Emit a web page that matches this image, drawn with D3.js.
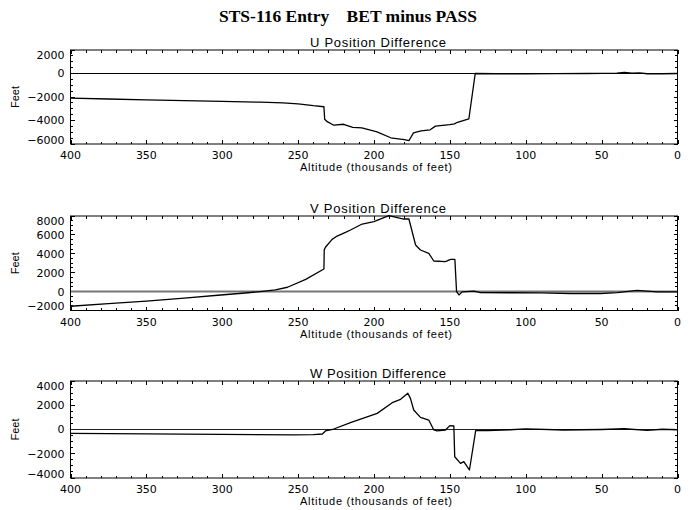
<!DOCTYPE html>
<html><head><meta charset="utf-8">
<script src="https://cdn.jsdelivr.net/npm/d3@7"></script>
<style>
body{margin:0;background:#fff;}
svg{display:block;}
text{fill:#000;}
</style></head>
<body>
<svg id="c" width="697" height="510"></svg>
<script>
// ---- data ----
const title = "STS-116 Entry    BET minus PASS";
const panelTitles = ["U Position Difference", "V Position Difference", "W Position Difference"];
const xLabel = "Altitude (thousands of feet)";
const yLabel = "Feet";
const xTicks = [400, 350, 300, 250, 200, 150, 100, 50, 0];
const yTicksU = [2000, 0, -2000, -4000, -6000];
const yTicksV = [8000, 6000, 4000, 2000, 0, -2000];
const yTicksW = [4000, 2000, 0, -2000, -4000];

// [altitude (kft), difference (ft)]
const uDiff = [[400,-2100],[375,-2170],[350,-2250],[325,-2310],[300,-2380],[275,-2440],[260,-2500],[250,-2580],[240,-2740],[233,-2830],[232.5,-3900],[230.8,-4100],[226.5,-4400],[220,-4320],[214,-4580],[208,-4630],[198,-4960],[189,-5470],[180,-5620],[177,-5720],[174,-5050],[169,-4880],[163,-4790],[159.5,-4480],[150,-4350],[147,-4290],[145,-4150],[137.5,-3870],[133.3,0],[120,-20],[100,-30],[80,-10],[60,0],[40,40],[35,100],[30,20],[25,60],[20,-20],[10,-20],[0,0]];
const vDiff = [[400,-1550],[375,-1280],[350,-1000],[325,-700],[301,-360],[285,-150],[275,0],[265,180],[257,460],[245,1300],[233,2390],[232.8,4400],[232,4690],[227.6,5530],[224.3,5880],[218.8,6270],[215.5,6520],[207.8,7150],[200.1,7400],[190.2,8030],[180.4,7680],[177,7680],[172.6,4930],[169.4,4400],[163.9,4050],[160.6,3240],[152.9,3170],[149.6,3410],[146.7,3410],[145.6,0],[144,-350],[141.9,-30],[134.2,60],[129.8,-110],[110,-120],[90,-130],[70.5,-200],[50.7,-200],[39.7,-100],[26.6,140],[13.4,-20],[0,-30]];
const wDiff = [[400,-320],[350,-360],[301,-400],[253,-450],[240,-420],[234,-370],[232,-120],[226.5,40],[215.5,560],[197.9,1330],[188,2210],[182.5,2490],[177.7,2990],[176,2570],[173.8,1610],[169.4,1000],[163.9,780],[160.6,-40],[158.4,-120],[152.9,-40],[150,320],[147.4,290],[146.8,-2250],[143,-2790],[140.8,-2650],[138.6,-3070],[137.1,-3340],[134.2,-1050],[133,-100],[125,-100],[110,-20],[100,50],[75,-40],[50,0],[35,60],[20,-80],[10,20],[0,-20]];

const series = [uDiff, vDiff, wDiff];
const yTickSets = [yTicksU, yTicksV, yTicksW];

// ---- layout ----
const L = 70.5, R = 677.5;
const panels = [
  {top: 50, bottom: 144, zeroColor: "#000", zeroWidth: 1},
  {top: 216, bottom: 310.5, zeroColor: "#777", zeroWidth: 2},
  {top: 381, bottom: 478, zeroColor: "#222", zeroWidth: 1.2}
];

const svg = d3.select("#c");
const font = "'Liberation Sans', Arial, sans-serif";
const numFont = "'DejaVu Sans', sans-serif";

svg.append("text")
  .attr("x", 348).attr("y", 22)
  .attr("text-anchor", "middle")
  .style("white-space", "pre")
  .attr("font-family", "'Liberation Serif', 'Times New Roman', serif")
  .attr("font-weight", "bold").attr("font-size", 16)
  .attr("textLength", 258).attr("lengthAdjust", "spacingAndGlyphs")
  .text(title);

const x = d3.scaleLinear().domain([400, 0]).range([L, R]);
const fmt = d => (d < 0 ? "\u2212" + Math.abs(d) : String(d));

panels.forEach((p, i) => {
  const ticks = yTickSets[i];
  const y = d3.scaleLinear().domain([d3.min(ticks), d3.max(ticks)]).range([p.bottom, p.top]);
  const g = svg.append("g");

  const xMinor = d3.range(0, 401, 10);
  const yStep = ticks[0] - ticks[1];
  const yMinor = d3.range(d3.min(ticks), d3.max(ticks) + 1, yStep / 4);
  const tk = g.append("g").attr("stroke", "#000").attr("stroke-width", 1).attr("shape-rendering", "crispEdges");
  xMinor.forEach(v => {
    const len = v % 50 === 0 ? 4 : 2.5;
    const px = Math.round(x(v)) + 0.5;
    tk.append("line").attr("x1", px).attr("x2", px).attr("y1", p.bottom).attr("y2", p.bottom - len);
    tk.append("line").attr("x1", px).attr("x2", px).attr("y1", p.top).attr("y2", p.top + len);
  });
  yMinor.forEach(v => {
    const len = (v % yStep === 0) ? 4 : 2.5;
    const py = y(v);
    tk.append("line").attr("x1", L).attr("x2", L + len).attr("y1", py).attr("y2", py);
    tk.append("line").attr("x1", R).attr("x2", R - len).attr("y1", py).attr("y2", py);
  });

  g.append("line").attr("x1", L).attr("x2", R).attr("y1", y(0)).attr("y2", y(0))
    .attr("stroke", p.zeroColor).attr("stroke-width", p.zeroWidth);

  const line = d3.line().x(d => x(d[0])).y(d => y(d[1]));
  g.append("path").datum(series[i]).attr("d", line)
    .attr("fill", "none").attr("stroke", "#000").attr("stroke-width", 1.3)
    .attr("stroke-linejoin", "round");

  g.append("rect").attr("x", L).attr("y", p.top).attr("width", R - L).attr("height", p.bottom - p.top)
    .attr("fill", "none").attr("stroke", "#000").attr("stroke-width", 1);

  xTicks.forEach(v => {
    g.append("text").attr("x", x(v)).attr("y", p.bottom + 15)
      .attr("text-anchor", "middle").attr("font-family", numFont).attr("font-size", 11)
      .text(fmt(v));
  });
  ticks.forEach(v => {
    const py = Math.min(Math.max(y(v), p.top + 5), p.bottom - 4);
    g.append("text").attr("x", L - 6).attr("y", py).attr("dy", "0.36em")
      .attr("text-anchor", "end").attr("font-family", numFont).attr("font-size", 11)
      .text(fmt(v));
  });

  g.append("text").attr("x", (L + R) / 2 + 4).attr("y", p.top - 3)
    .attr("text-anchor", "middle").attr("font-family", font).attr("font-size", 13)
    .attr("textLength", 136).attr("lengthAdjust", "spacing")
    .text(panelTitles[i]);
  g.append("text").attr("x", (L + R) / 2 + 2).attr("y", p.bottom + 27)
    .attr("text-anchor", "middle").attr("font-family", font).attr("font-size", 11)
    .attr("textLength", 152).attr("lengthAdjust", "spacing")
    .text(xLabel);
  g.append("text")
    .attr("transform", `translate(19,${(p.top + p.bottom) / 2}) rotate(-90)`)
    .attr("text-anchor", "middle").attr("font-family", font).attr("font-size", 11)
    .text(yLabel);
});
</script>
</body></html>
